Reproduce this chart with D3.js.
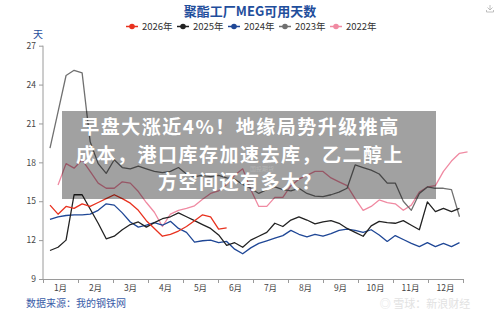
<!DOCTYPE html>
<html lang="zh">
<head>
<meta charset="utf-8">
<script src="https://d3js.org/d3.v7.min.js"></script>
<style>
body { margin: 0; background: #fff; }
svg text { font-family: "Noto Sans CJK SC", "Noto Sans", sans-serif; }
.axis path, .axis line { stroke: #9a9a9a; }
.axis text { fill: #444; font-size: 8.5px; }
.series { fill: none; stroke-width: 1.3; stroke-linejoin: round; }
</style>
</head>
<body>
<svg width="500" height="312"></svg>
<script>

// data: weekly MEG days of supply at polyester plants
var months = ["1月","2月","3月","4月","5月","6月","7月","8月","9月","10月","11月","12月"];
var yTicks = [9, 12, 15, 18, 21, 24, 27];

var y2026 = [14.7,14.0,14.6,14.45,14.8,14.6,14.9,15.2,15.5,15.2,14.85,14.3,13.5,12.9,12.3,12.45,12.7,13.05,13.5,13.95,13.8,12.85,12.95];
var y2025 = [11.2,11.45,12.0,15.5,15.5,14.4,13.3,12.1,12.3,12.8,13.2,13.4,13.0,13.35,13.65,13.8,14.1,13.8,13.5,13.2,12.9,12.4,11.6,11.8,11.45,12.0,
             12.3,12.6,13.3,13.05,13.55,13.8,13.55,13.25,13.4,13.5,13.3,12.9,12.6,12.3,13.1,13.45,13.35,13.3,13.5,13.15,12.8,14.95,14.2,14.45,14.2,14.45];
var y2024 = [13.6,13.8,13.9,13.95,13.95,14.0,14.3,14.8,14.7,14.1,13.4,13.0,13.15,13.35,13.15,13.45,12.9,12.6,11.85,11.95,12.0,11.8,11.9,11.3,10.95,11.4,
             11.75,11.95,12.15,12.35,12.75,12.45,12.25,12.45,12.3,12.5,12.75,12.85,12.75,12.6,12.8,12.4,11.9,12.35,12.05,11.75,11.5,11.8,11.5,11.75,11.5,11.8];
var y2023 = [19.1,21.9,24.7,25.1,24.9,19.6,17.9,17.15,18.2,17.6,17.5,17.7,17.5,17.3,17.2,17.3,17.6,17.1,16.9,17.0,16.9,17.0,16.8,16.7,16.3,16.0,
             15.6,15.9,16.1,15.9,15.8,16.0,15.6,15.4,15.35,15.5,15.7,16.0,17.8,17.6,17.4,17.1,16.4,16.4,15.0,14.3,15.6,16.1,16.0,16.0,15.9,13.8];
var y2022 = [16.25,17.9,17.55,18.2,17.3,16.4,16.0,16.0,16.5,16.4,15.75,14.9,14.15,13.05,14.0,14.3,14.45,14.65,15.15,15.6,15.8,16.3,17.0,17.5,15.9,14.6,
             14.6,15.3,15.3,16.2,16.7,17.0,17.3,17.3,16.8,16.5,16.2,15.2,14.3,14.6,15.1,14.9,14.8,14.3,14.7,15.7,16.1,16.2,17.3,18.1,18.7,18.8];

var seriesNames = ["2026年","2025年","2024年","2023年","2022年"];
var seriesValues = [y2026, y2025, y2024, y2023, y2022];
var seriesStart = [1, 1, 1, 1, 2];   // first week of each series
var colors = ["#e8321f", "#222222", "#1f4796", "#707070", "#f08aa2"];

var svg = d3.select("svg");

// scales
var y = d3.scaleLinear().domain([9, 27]).range([279, 45.7]);
var week = d3.scaleLinear().domain([1, 52]).range([50, 459.5]);
var xMonth = d3.scaleBand().domain(months).range([43, 463]);
var xEdge = d3.scaleLinear().domain([0, 12]).range([43, 463]);

// title
svg.append("text")
    .attr("x", 250).attr("y", 15.5)
    .attr("text-anchor", "middle")
    .style("font-size", "13px").style("font-weight", "bold")
    .style("fill", "#1f4e9c")
    .text("聚酯工厂MEG可用天数");

// legend
var legend = svg.append("g").attr("transform", "translate(126,26.5)");
var item = legend.selectAll("g")
  .data(seriesNames)
  .enter().append("g")
    .attr("transform", function(d, i) { return "translate(" + (i * 51) + ",0)"; });
item.append("line")
    .attr("x1", 0).attr("x2", 12)
    .attr("stroke", function(d, i) { return colors[i]; })
    .attr("stroke-width", 1.5);
item.append("circle")
    .attr("cx", 6).attr("r", 2.8)
    .attr("fill", function(d, i) { return colors[i]; });
item.append("text")
    .attr("x", 16).attr("dy", "0.35em")
    .style("font-size", "9.5px").style("fill", "#333")
    .text(function(d) { return d; });

// unit
svg.append("text")
    .attr("x", 38).attr("y", 38)
    .attr("text-anchor", "middle")
    .style("font-size", "10px").style("fill", "#1f4e9c")
    .text("天");

// axes
svg.append("g")
    .attr("class", "axis")
    .attr("transform", "translate(43,0)")
    .call(d3.axisLeft(y).tickValues(yTicks).tickSize(4).tickPadding(3))
    .call(function(g) { g.select(".domain").attr("d", "M0," + y(27) + "V" + y(9)); });

svg.append("g")
    .attr("class", "axis")
    .attr("transform", "translate(0,279)")
    .call(d3.axisBottom(xEdge).ticks(12).tickFormat("").tickSize(4).tickSizeOuter(0));

svg.append("g")
    .attr("class", "axis")
    .attr("transform", "translate(0,279)")
    .call(d3.axisBottom(xMonth).tickSize(0).tickPadding(6))
    .call(function(g) { g.select(".domain").remove(); });

// lines, drawn oldest first
var line = d3.line()
    .x(function(d) { return week(d.w); })
    .y(function(d) { return y(d.v); });

for (var i = seriesValues.length - 1; i >= 0; i--) {
  var pts = seriesValues[i].map(function(v, j) { return {w: j + seriesStart[i], v: v}; });
  svg.append("path")
      .datum(pts)
      .attr("class", "series")
      .attr("stroke", colors[i])
      .attr("d", line);
}

// source
svg.append("text")
    .attr("x", 26).attr("y", 307)
    .style("font-size", "10px").style("fill", "#3a5ca8")
    .text("数据来源：我的钢铁网");

// download icon
var dl = svg.append("g").attr("transform", "translate(490,9)")
    .attr("stroke", "#b0b0b0").attr("fill", "none").attr("stroke-width", 0.8);
dl.append("path").attr("d", "M0,-4V1M-2.5,-1.5L0,1L2.5,-1.5M-3.5,1V3H3.5V1");

// watermarks
svg.append("text")
    .attr("x", 425).attr("y", 307.5)
    .attr("text-anchor", "middle")
    .style("font-size", "11px").style("fill", "#e2e2e2")
    .text("◎ 雪球：新浪财经");

// headline overlay
svg.append("rect")
    .attr("x", 62).attr("y", 111)
    .attr("width", 374).attr("height", 88)
    .attr("fill", "rgba(0,0,0,0.37)");

svg.append("text")
    .attr("x", 262).attr("y", 171)
    .attr("text-anchor", "middle")
    .style("font-size", "6px").style("fill", "rgba(255,255,255,0.22)")
    .text("国投期货");

var headline = ["早盘大涨近4%！地缘局势升级推高", "成本，港口库存加速去库，乙二醇上", "方空间还有多大？"];
svg.append("g").selectAll("text")
  .data(headline)
  .enter().append("text")
    .attr("x", 240)
    .attr("y", function(d, i) { return 134 + i * 27.5; })
    .attr("text-anchor", "middle")
    .style("font-size", "19px").style("font-weight", "bold")
    .style("fill", "#fff")
    .style("letter-spacing", "1.5px")
    .text(function(d) { return d; });

</script>
</body>
</html>
